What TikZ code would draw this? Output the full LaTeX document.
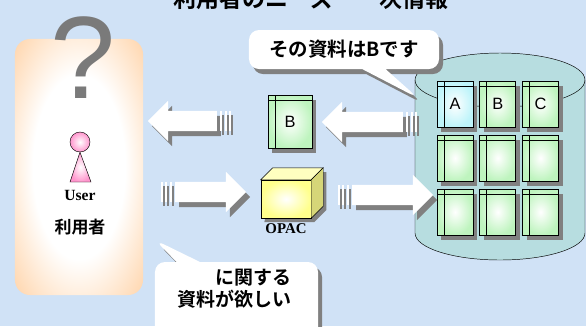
\documentclass[tikz,border=0pt]{standalone}
\usepackage{fontspec}
\setmainfont{Liberation Serif}
\newfontfamily\jp[BoldFont={Noto Sans CJK JP Bold}]{Noto Sans CJK JP}
\newfontfamily\arial{Liberation Sans}
\usetikzlibrary{shapes.arrows,shapes.callouts,shadows,positioning}

\definecolor{bgblue}{RGB}{208,226,246}
\definecolor{userorange}{RGB}{255,202,150}
\definecolor{userpink}{RGB}{255,150,205}
\definecolor{qgray}{RGB}{122,122,122}
\definecolor{bookgreen}{RGB}{190,244,190}
\definecolor{bookcyan}{RGB}{190,244,250}
\definecolor{opacyellow}{RGB}{255,255,140}
\definecolor{opacside}{RGB}{214,214,120}
\definecolor{dbteal}{RGB}{183,221,224}
\definecolor{shadowgray}{RGB}{128,128,128}

\pgfdeclareradialshading{userglow}{\pgfpoint{0bp}{0bp}}{color(0bp)=(white); color(18bp)=(white); color(40bp)=(userorange); color(50bp)=(userorange)}

\tikzset{
  grayshadow/.style={drop shadow={shadow xshift=0.12cm, shadow yshift=-0.15cm, fill=shadowgray, opacity=1}},
  bigarrow/.style={single arrow, fill=white, grayshadow, inner xsep=0pt, inner ysep=0.3cm,
    single arrow head extend=0.3cm},
  stripe/.style={fill=white, drop shadow={shadow xshift=0.06cm, shadow yshift=-0.12cm, fill=shadowgray, opacity=1}},
  book/.style={draw=black, line width=0.5pt, inner sep=0pt, minimum width=1.08cm, minimum height=1.38cm,
    inner color=white, outer color=#1, grayshadow, font=\arial\fontsize{14}{14}\selectfont,
    path picture={
      \draw ([xshift=0.21cm]path picture bounding box.north west) -- ([xshift=0.21cm]path picture bounding box.south west);
      \draw ([yshift=-0.15cm]path picture bounding box.north west) -- ([yshift=-0.15cm]path picture bounding box.north east);
    }},
  book/.default=bookgreen,
  bubble/.style={rectangle callout, fill=white, rounded corners=0.3cm, grayshadow, callout pointer width=0.7cm},
  jp/.style={font=\jp\bfseries\fontsize{#1}{#1}\selectfont}
}

\begin{document}
\begin{tikzpicture}[x=0.03cm, y=-0.03cm]
  \useasboundingbox (0,0) rectangle (586,326);
  \clip (0,0) rectangle (586,326);
  \fill[bgblue] (0,0) rectangle (586,326);

  \node[jp=19.6, inner sep=0pt] (title) at (311,-1) {利用者のニーズ　一次情報};

  % user side
  \node[shade, shading=userglow, rounded corners=0.45cm, minimum width=3.84cm, minimum height=7.68cm] (user) at (79,167) {};
  \node[text=qgray, inner sep=0pt, font=\arial\fontsize{100}{100}\selectfont] (question) at (83,58) {?};
  \node[circle, draw, thin, minimum size=0.6cm, inner sep=0pt, inner color=white, outer color=userpink] (head) at (80,142) {};
  \shadedraw[thin, inner color=white, outer color=userpink] (head.south) -- (70,182) -- (91,182) -- cycle;
  \node[inner sep=0pt, font=\bfseries\fontsize{13.3}{14}\selectfont] (userlabel) at (80,195) {User};
  \node[jp=14.5, inner sep=0pt] (userjp) at (80,227) {利用者};

  % database
  \fill[dbteal] (415,80) rectangle (585,233);
  \fill[dbteal] (500,233) ellipse [x radius=2.55cm, y radius=0.81cm];
  \filldraw[fill=dbteal, thin] (500,80) ellipse [x radius=2.55cm, y radius=0.81cm];
  \draw[thin] (415,80) -- (415,233) arc[start angle=180, end angle=360, x radius=2.55cm, y radius=0.81cm] -- (585,80);
  \coordinate (dbtip) at (418,98);

  \node[book=bookcyan] (dbA) at (455,104) {A};
  \node[book] (dbB) at (497.75,104) {B};
  \node[book] (dbC) at (540.5,104) {C};
  \foreach \r in {2,3}
    \foreach \c in {1,2,3}
      \node[book] (db\r\c) at ({412.25+42.75*\c},{50+54*\r}) {};

  % record and OPAC
  \node[book, minimum width=1.32cm, minimum height=1.59cm] (record) at (290,121.5) {B};

  \fill[shadowgray] ([shift={(0.1cm,-0.12cm)}]286,199) ++(-25,19) -- ++(50,0) -- ++(12,-12) -- ++(0,-38) -- ++(-50,0) -- cycle;
  \node[draw, thin, minimum width=1.5cm, minimum height=1.14cm, inner sep=0pt, inner color=white, outer color=opacyellow] (opac) at (286,199) {};
  \filldraw[thin, fill=opacyellow!55!white] (opac.north west) -- ++(0.36cm,0.36cm) -- ([shift={(0.36cm,0.36cm)}]opac.north east) -- (opac.north east) -- cycle;
  \filldraw[thin, fill=opacside] (opac.north east) -- ++(0.36cm,0.36cm) -- ([shift={(0.36cm,0.36cm)}]opac.south east) -- (opac.south east) -- cycle;
  \node[below=0.12cm of opac, inner sep=1pt, font=\bfseries\fontsize{12.7}{13}\selectfont] (opaclabel) {OPAC};

  % flow arrows
  \node[bigarrow, shape border rotate=180, minimum height=2.07cm] (toUser) at (187.5,121) {};
  \node[bigarrow, minimum height=2.13cm] (toOpac) at (205.5,192) {};
  \node[bigarrow, shape border rotate=180, minimum height=2.43cm] (toRecord) at (367.5,122) {};
  \node[bigarrow, minimum height=2.43cm] (toDb) at (387.5,195) {};
  \foreach \a in {toUser,toRecord}
    \foreach \d in {0.09,0.225,0.36}
      \path[stripe] ([xshift=\d cm, yshift=0.3cm]\a.tail) rectangle ++(0.06cm,-0.6cm);
  \foreach \a in {toOpac,toDb}
    \foreach \d in {0.09,0.225,0.36}
      \path[stripe] ([xshift=-\d cm, yshift=0.3cm]\a.tail) rectangle ++(-0.06cm,-0.6cm);

  % speech bubbles
  \node[bubble, jp=16.6, minimum width=5.7cm, minimum height=1.17cm, callout absolute pointer={(dbtip)}] (answer) at (344,49.5) {その資料はBです};
  \coordinate (usertip) at (155,240);
  \node[bubble, minimum width=4.89cm, minimum height=2.28cm, callout absolute pointer={(usertip)}] (want) at (236.5,300) {};
  \node[align=right, inner sep=0pt, font=\jp\bfseries\fontsize{16.2}{18.8}\selectfont] (wanttext) at (234.5,289) {に関する\\資料が欲しい};
\end{tikzpicture}
\end{document}
